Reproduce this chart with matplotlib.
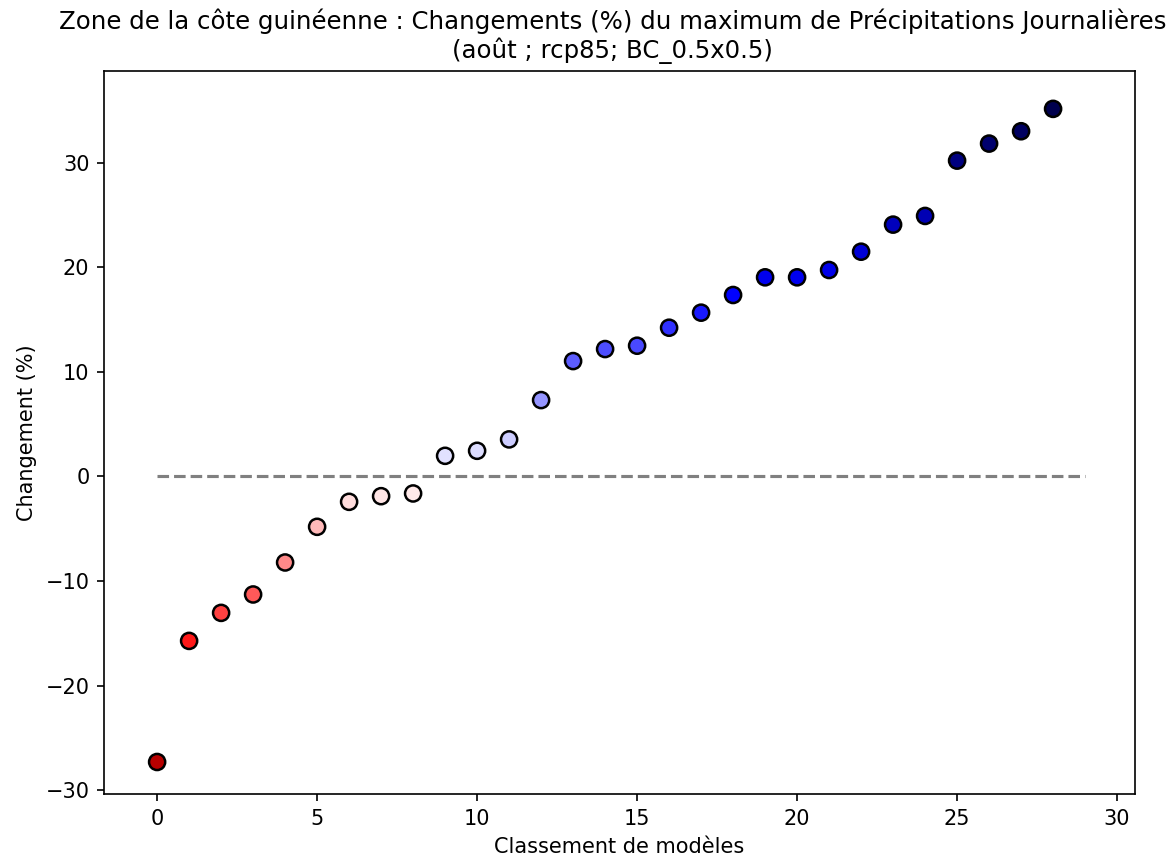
import numpy as np
import matplotlib
matplotlib.use("Agg")
import matplotlib.pyplot as plt
from matplotlib.colors import Normalize

ranks = list(range(29))
changes = [-27.31, -15.73, -13.05, -11.29, -8.23, -4.82, -2.43, -1.89, -1.63,
           1.97, 2.45, 3.54, 7.30, 11.03, 12.18, 12.50, 14.22, 15.66, 17.35,
           19.04, 19.04, 19.74, 21.49, 24.08, 24.91, 30.20, 31.83, 33.01, 35.15]

title = ("Zone de la côte guinéenne : Changements (%) du maximum de Précipitations Journalières\n"
         "(août ; rcp85; BC_0.5x0.5)")
xlabel = "Classement de modèles"
ylabel = "Changement (%)"

fig = plt.figure(figsize=(1167/150, 859/150), dpi=150)
ax = fig.add_axes([104/1167, 1 - 794.3/859, (1135 - 104)/1167, (794.3 - 70.7)/859])

vmax = max(abs(v) for v in changes)
norm = Normalize(vmin=-vmax, vmax=vmax)
ax.hlines(0, 0, len(changes), colors="gray", linestyles="--", linewidth=1.5, zorder=1)
ax.scatter(ranks, changes, c=changes, cmap="seismic_r", norm=norm, s=60,
           edgecolors="black", linewidths=1.2, zorder=3)

ax.set_xlim(-1.66, 30.56)
ax.set_ylim(-30.4, 38.8)
ax.set_xticks([0, 5, 10, 15, 20, 25, 30])
ax.set_yticks([-30, -20, -10, 0, 10, 20, 30])
ax.set_xlabel(xlabel)
ax.set_ylabel(ylabel)
ax.set_title(title, fontsize=11.7, x=0.4935)

fig.savefig("out.png", dpi=150)
